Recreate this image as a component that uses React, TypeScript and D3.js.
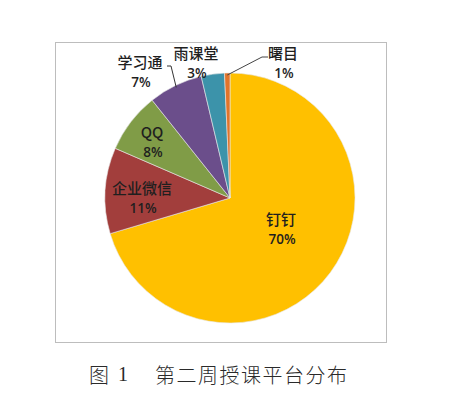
import React from 'react';
import * as d3 from 'd3';

// platform share, week 2 (percent)
const platforms = ['钉钉', '企业微信', 'QQ', '学习通', '雨课堂', '曙目'];
const shares = [70.4, 11.1, 7.8, 7.0, 3.0, 0.7];
const colors = ['#FFC000', '#A23E3C', '#809C47', '#6B4E8B', '#3C93AA', '#E2742A'];

// label anchor offsets (relative to pie centre), as placed in the source chart
const labelPos: [number, number][] = [
  [51, 20], [-88, -11], [-78, -67], [-90, -137], [-34, -146], [53, -146],
];

const W = 465;
const H = 397;
const cx = 230;
const cy = 198;
const r = 125;

const App: React.FC = () => {
  const pie = d3.pie<number>().sort(null).value(d => d).startAngle(0).endAngle(2 * Math.PI);
  const arcs = pie(shares);
  const arc = d3.arc<d3.PieArcDatum<number>>().innerRadius(0).outerRadius(r);
  const total = d3.sum(shares);

  // leader lines for the two small outside labels
  const leader = (i: number, sx: number, sy: number, bx: number) => {
    const a = arcs[i];
    const mid = (a.startAngle + a.endAngle) / 2;
    const ex = Math.sin(mid) * (r - 2);
    const ey = -Math.cos(mid) * (r - 2);
    return d3.line()([[sx, sy], [bx, sy], [ex, ey]]) || '';
  };

  return (
    <svg width={W} height={H} style={{ position: 'absolute', left: 0, top: 0, background: '#fff' }}>
      <rect x={55.5} y={42.5} width={331} height={300} fill="#fff" stroke="#bdbdbd" strokeWidth={1} />
      <g transform={`translate(${cx},${cy})`}>
        {arcs.map((a, i) => (
          <path key={platforms[i]} d={arc(a) || ''} fill={colors[i]} stroke="#e8e8e8" strokeWidth={0.6} />
        ))}
        <path d={leader(3, -63, -132, -59)} fill="none" stroke="#333" strokeWidth={1} />
        <path d={leader(5, 38, -141, 32)} fill="none" stroke="#444" strokeWidth={1} />
        {arcs.map((a, i) => {
          const [lx, ly] = labelPos[i];
          return (
            <g key={'l' + i} fill="#1f1f1f" textAnchor="middle">
              <text x={lx} y={ly} fontFamily="'Noto Sans CJK SC', sans-serif" fontWeight={500} fontSize={15} dominantBaseline="central">
                {platforms[i]}
              </text>
              <text x={lx + 1} y={ly + 21} fontFamily="'Open Sans', sans-serif" fontWeight={600} fontSize={13.5} dominantBaseline="central">
                {Math.round((a.value / total) * 100)}%
              </text>
            </g>
          );
        })}
      </g>
      <g fontFamily="'Noto Sans CJK SC', serif" fontSize={20} fill="#2a2a2a" fontWeight={300}>
        <text x={89} y={374} dominantBaseline="central">图</text>
        <text x={118} y={374} dominantBaseline="central" fontFamily="'Liberation Serif', serif">1</text>
        <text x={155} y={374} dominantBaseline="central" letterSpacing={1.5}>第二周授课平台分布</text>
      </g>
    </svg>
  );
};

export default App;
